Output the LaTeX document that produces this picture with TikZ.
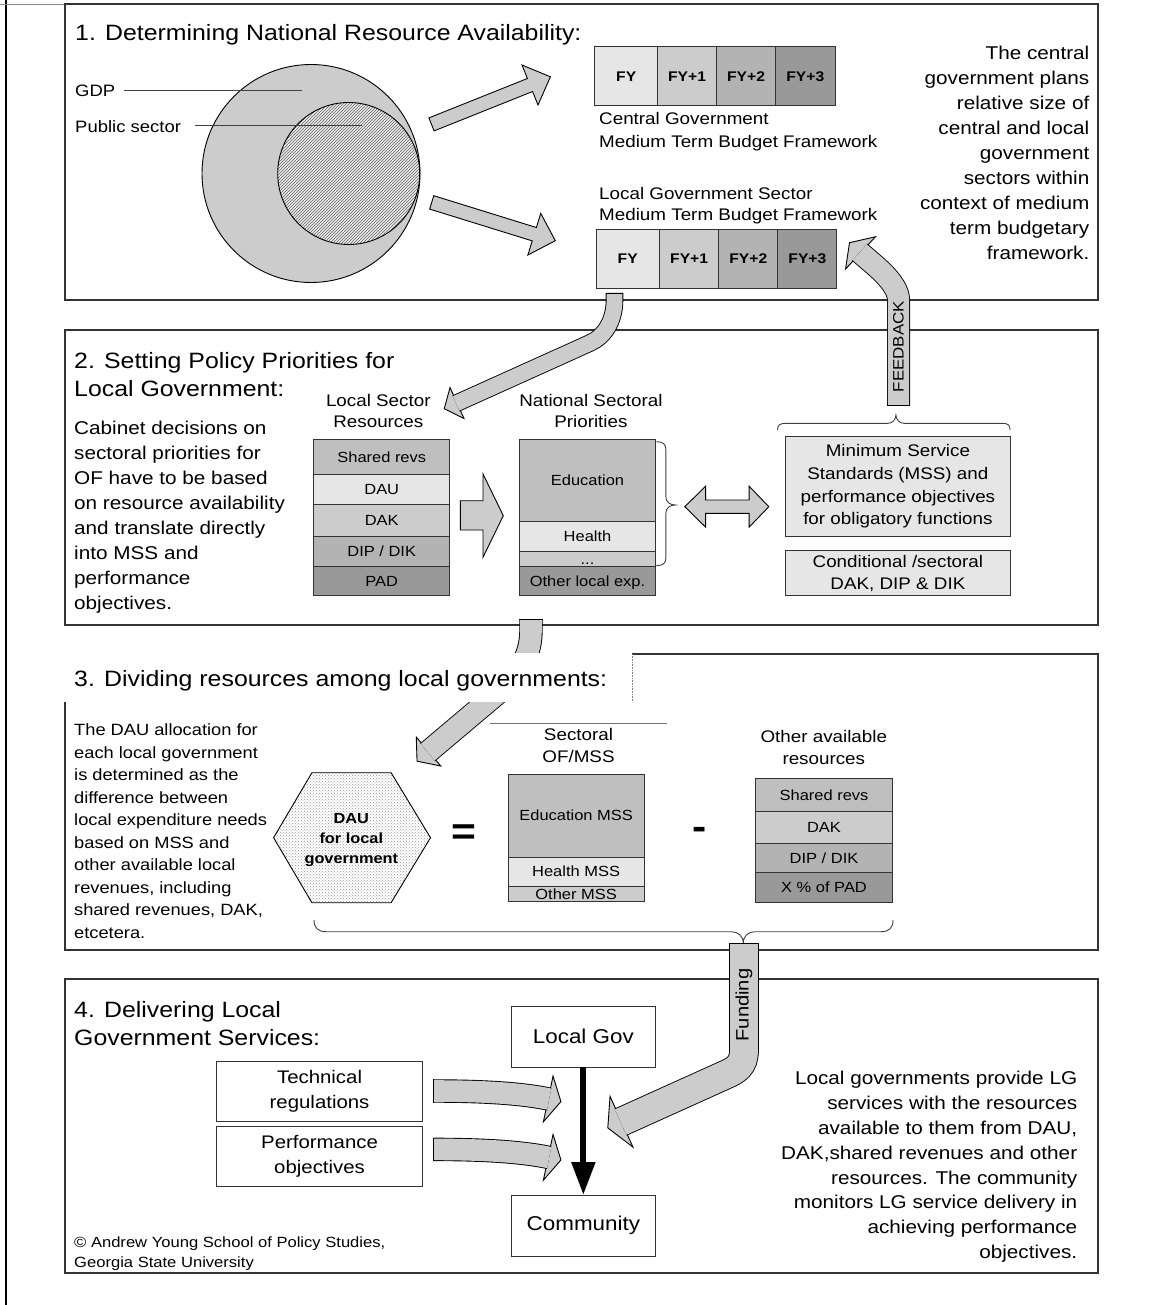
\documentclass[tikz,border=0pt]{standalone}
\usepackage{fontspec}
\setmainfont{Liberation Sans}[FakeStretch=1.12]
\usetikzlibrary{calc,patterns,arrows.meta}
\definecolor{g1}{HTML}{E6E6E6}
\definecolor{g2}{HTML}{CCCCCC}
\definecolor{g3}{HTML}{B3B3B3}
\definecolor{g4}{HTML}{999999}
\definecolor{g5}{HTML}{BFBFBF}
\definecolor{shaftc}{HTML}{CCCCCC}
\newcommand\fsz[2]{\fontsize{#1}{#2}\selectfont}
\tikzset{
  panel/.style={draw=black!80, line width=1.3pt},
  ttl/.style={inner sep=0pt, align=left, font=\fsz{22.2}{28.3}},
  body/.style={inner sep=0pt, font=\fsz{18.5}{25}},
  lbl/.style={inner sep=0pt, font=\fsz{16.5}{20}},
  captxt/.style={inner sep=0pt, font=\fsz{16.8}{22.5}},
  cellbox/.style={draw=black!80, line width=1pt, inner sep=0pt, outer sep=0pt, anchor=north west, font=\fsz{14.7}{17}, text height=10.5pt, text depth=0pt},
  fycell/.style={cellbox, font=\bfseries\fsz{14}{16}, text height=10pt},
  plainbox/.style={draw=black!80, line width=1pt, inner sep=0pt, outer sep=0pt, anchor=north west, fill=white, align=center},
  blk/.style={fill=shaftc, draw=black, line width=0.9pt, line join=miter},
  shaftst/.style={draw=black, line width=0.9pt, double=shaftc, double distance=#1},
  capline/.style={draw=black, line width=0.9pt},
  leader/.style={draw=black!75, line width=0.9pt},
  bracest/.style={draw=black!75, line width=0.9pt},
}
\begin{document}
\begin{tikzpicture}[x=1pt,y=-1pt]
\useasboundingbox (0,0) rectangle (1153,1305);
% outer frame
\draw[line width=2pt] (6,0) -- (6,1305);
\draw[black!45, line width=0.8pt] (0,4) -- (65,4);
% panels
\draw[panel] (65,4) rectangle (1098,300);
\draw[panel] (65,330) rectangle (1098,625);
\draw[panel] (65,702) -- (65,950) -- (1098,950) -- (1098,654) -- (632,654);
\draw[black!50, line width=0.6pt, densely dotted] (632,654) -- (632,702);
\draw[panel] (65,979) rectangle (1098,1273);

% ---------- Panel 1
\node[ttl, anchor=base west] (title1) at (75,41) {1. Determining National Resource Availability:};
\node[circle, draw=black, line width=0.9pt, fill=g2, minimum size=218pt, inner sep=0pt] (gdpc) at (311,173.5) {};
\node[circle, draw=black, line width=0.9pt, minimum size=142pt, inner sep=0pt, preaction={fill=black!8}, pattern=north east lines, pattern color=black!60] (pubc) at (348.7,173.5) {};
\node[lbl, anchor=base west] (gdpl) at (75,96.5) {GDP};
\node[lbl, anchor=base west] (publ) at (75,132.7) {Public sector};
\coordinate (gdpin) at (302,90);
\coordinate (pubin) at (362,125);
\draw[leader] (gdpl.east |- gdpin) ++(9,0) -- (gdpin);
\draw[leader] (publ.east |- pubin) ++(14,0) -- (pubin);
% straight block arrows
\draw[blk] (434.1,130.9) -- (532.6,91.5) -- (538,105) -- (550.4,76.8) -- (522,65) -- (527.4,78.5) -- (428.9,117.9) -- cycle;
\draw[blk] (429.63,209.09) -- (532.23,240.89) -- (527.85,255.02) -- (555.3,240.7) -- (540.75,213.38) -- (536.37,227.52) -- (433.77,195.72) -- cycle;
% central MTBF
\node[fycell, fill=g1, minimum width=62.8pt, minimum height=59pt] (cfy0) at (594.8,46.7) {FY};
\node[fycell, fill=g2, minimum width=59pt, minimum height=59pt] (cfy1) at (657.6,46.7) {FY+1};
\node[fycell, fill=g3, minimum width=59pt, minimum height=59pt] (cfy2) at (716.6,46.7) {FY+2};
\node[fycell, fill=g4, minimum width=59.4pt, minimum height=59pt] (cfy3) at (775.6,46.7) {FY+3};
\node[captxt, anchor=base west, align=left, font=\fsz{16.8}{23.4}] (ccap) at (599,147.7) {Central Government\\Medium Term Budget Framework};
\node[captxt, anchor=base west, align=left, font=\fsz{16.8}{21.7}] (lcap) at (599,221) {Local Government Sector\\Medium Term Budget Framework};
% local MTBF
\node[fycell, fill=g1, minimum width=63.5pt, minimum height=59pt] (lfy0) at (596,229.3) {FY};
\node[fycell, fill=g2, minimum width=59.3pt, minimum height=59pt] (lfy1) at (659.5,229.3) {FY+1};
\node[fycell, fill=g3, minimum width=59.1pt, minimum height=59pt] (lfy2) at (718.8,229.3) {FY+2};
\node[fycell, fill=g4, minimum width=59pt, minimum height=59pt] (lfy3) at (777.9,229.3) {FY+3};
\node[body, anchor=base east, align=right, font=\fsz{18.5}{24.9}] (p1txt) at (1089.5,259.2) {The central\\government plans\\relative size of\\central and local\\government\\sectors within\\context of medium\\term budgetary\\framework.};

% ---------- Panel 2
\node[ttl, anchor=base west] (title2) at (74,396.3) {2. Setting Policy Priorities for\\Local Government:};
\node[body, anchor=base west, align=left] (p2txt) at (74,609.7) {Cabinet decisions on\\sectoral priorities for\\OF have to be based\\on resource availability\\and translate directly\\into MSS and\\performance\\objectives.};
\node[captxt, anchor=base, align=center, font=\fsz{16.8}{21.7}] (lsrh) at (378.3,427.7) {Local Sector\\Resources};
\node[cellbox, fill=g5, minimum width=135.9pt, minimum height=35pt] (ls1) at (313.8,439.3) {Shared revs};
\node[cellbox, fill=g1, minimum width=135.9pt, minimum height=29.7pt] (ls2) at (313.8,474.3) {DAU};
\node[cellbox, fill=g2, minimum width=135.9pt, minimum height=32.7pt] (ls3) at (313.8,504) {DAK};
\node[cellbox, fill=g3, minimum width=135.9pt, minimum height=29.3pt] (ls4) at (313.8,536.7) {DIP / DIK};
\node[cellbox, fill=g4, minimum width=135.9pt, minimum height=29.7pt] (ls5) at (313.8,566) {PAD};
\draw[blk] (460.4,500.7) -- (483,500.7) -- (483,474) -- (503.3,515.7) -- (483,557.3) -- (483,530) -- (460.4,530) -- cycle;
\node[captxt, anchor=base, align=center, font=\fsz{16.8}{21.7}] (nsph) at (590.9,427.7) {National Sectoral\\Priorities};
\node[cellbox, fill=g5, minimum width=136.4pt, minimum height=82.4pt] (ns1) at (519.3,439.3) {Education};
\node[cellbox, fill=g1, minimum width=136.4pt, minimum height=30pt] (ns2) at (519.3,521.7) {Health};
\node[cellbox, fill=g2, minimum width=136.4pt, minimum height=14.3pt] (ns3) at (519.3,551.7) {...};
\node[cellbox, fill=g4, minimum width=136.4pt, minimum height=29.7pt] (ns4) at (519.3,566) {Other local exp.};
\draw[bracest] (656.4,441.7) .. controls (663,441.7) and (665.9,444) .. (665.9,450) -- (665.9,497) .. controls (665.9,502) and (670,505) .. (675.4,505) .. controls (670,505) and (665.9,508) .. (665.9,513) -- (665.9,558) .. controls (665.9,563) and (663,565.7) .. (656.4,565.7);
\draw[blk] (684.8,506.7) -- (705.6,486.2) -- (705.6,500) -- (749.1,500) -- (749.1,486.2) -- (768.8,506.7) -- (749.1,527.2) -- (749.1,513.4) -- (705.6,513.4) -- (705.6,527.2) -- cycle;
\node[plainbox, fill=g1, minimum width=224.2pt, minimum height=100.7pt, font=\fsz{16.8}{22.8}] (mss) at (785.8,436) {Minimum Service\\Standards (MSS) and\\performance objectives\\for obligatory functions};
\node[plainbox, fill=g1, minimum width=224.2pt, minimum height=45pt, font=\fsz{16.8}{21.6}] (cond) at (785.8,550.7) {Conditional /sectoral\\DAK, DIP \& DIK};
\draw[bracest] (777.5,430) .. controls (777.5,425) and (780,423.3) .. (786,423.3) -- (888,423.3) .. controls (892,423.3) and (895.9,420) .. (895.9,415) .. controls (895.9,420) and (900,423.3) .. (904,423.3) -- (1002,423.3) .. controls (1008,423.3) and (1010,425) .. (1010,430);

% ---------- Panel 3
\node[inner sep=0pt, anchor=base west, align=left, font=\fsz{16.3}{22.5}] (p3txt) at (74,938.4) {The DAU allocation for\\each local government\\is determined as the\\difference between\\local expenditure needs\\based on MSS and\\other available local\\revenues, including\\shared revenues, DAK,\\etcetera.};
\draw[line width=0.9pt, preaction={fill=white}, pattern=crosshatch dots, pattern color=black!40] (273.6,837.7) -- (311.9,772.7) -- (391.1,772.7) -- (430.5,837.7) -- (391.1,902.7) -- (311.9,902.7) -- cycle;
\node[inner sep=0pt, anchor=base, align=center, font=\bfseries\fsz{14.6}{20}] (dau) at (351.3,863.6) {DAU\\for local\\government};
\node[inner sep=0pt, font=\bfseries\fsz{38}{40}] (eqs) at (464,834.2) {=};
\node[inner sep=0pt, font=\bfseries\fsz{38}{40}] (mns) at (699.8,833.3) {-};
\draw[black!55, line width=0.6pt] (490,723) -- (667,723);
\node[captxt, anchor=base, align=center, font=\fsz{16.8}{22.7}] (sech) at (578.5,762.7) {Sectoral\\OF/MSS};
\node[cellbox, fill=g5, minimum width=135.8pt, minimum height=83.3pt] (se1) at (508.2,774) {Education MSS};
\node[cellbox, fill=g1, minimum width=135.8pt, minimum height=28.7pt] (se2) at (508.2,857.3) {Health MSS};
\node[cellbox, fill=g2, minimum width=135.8pt, minimum height=15.7pt] (se3) at (508.2,886) {Other MSS};
\node[captxt, anchor=base, align=center, font=\fsz{16.8}{22.3}] (oarh) at (823.8,764.3) {Other available\\resources};
\node[cellbox, fill=g5, minimum width=136.2pt, minimum height=33.4pt] (oa1) at (755.9,778.3) {Shared revs};
\node[cellbox, fill=g2, minimum width=136.2pt, minimum height=31.6pt] (oa2) at (755.9,811.7) {DAK};
\node[cellbox, fill=g3, minimum width=136.2pt, minimum height=29.4pt] (oa3) at (755.9,843.3) {DIP / DIK};
\node[cellbox, fill=g4, minimum width=136.2pt, minimum height=30pt] (oa4) at (755.9,872.7) {X \% of PAD};
\draw[bracest] (314,920) .. controls (314,928) and (318,931.7) .. (326,931.7) -- (731,931.7) .. controls (738,931.7) and (743.3,936) .. (743.3,943.3) .. controls (743.3,936) and (748,931.7) .. (755,931.7) -- (881,931.7) .. controls (889,931.7) and (893,928) .. (893,920);

% ---------- Panel 4
\node[ttl, anchor=base west, font=\fsz{22.2}{28}] (title4) at (74,1045.3) {4. Delivering Local\\Government Services:};
\node[plainbox, minimum width=144.7pt, minimum height=61.3pt, font=\fsz{20}{24}] (lgov) at (511,1006) {Local Gov};
\node[plainbox, minimum width=144.7pt, minimum height=61pt, font=\fsz{20}{24}] (comm) at (511,1195) {Community};
\node[plainbox, minimum width=206.7pt, minimum height=59.3pt, font=\fsz{18.2}{25}] (tech) at (216.2,1061.7) {Technical\\regulations};
\node[plainbox, minimum width=206.7pt, minimum height=59.3pt, font=\fsz{18.2}{25}] (perf) at (216.2,1126.7) {Performance\\objectives};
\draw[line width=6pt, -{Triangle[width=22.7pt,length=33pt]}] (lgov.south) -- (comm.north);
\node[body, anchor=base east, align=right, font=\fsz{18.5}{24.9}] (p4txt) at (1077.4,1258.7) {Local governments provide LG\\services with the resources\\available to them from DAU,\\DAK,shared revenues and other\\resources. The community\\monitors LG service delivery in\\achieving performance\\objectives.};
\node[inner sep=0pt, anchor=base west, align=left, font=\fsz{14.8}{20}] (copy) at (74,1267.6) {© Andrew Young School of Policy Studies,\\Georgia State University};

% ---------- curved block arrows
% A: local FY -> local sector resources
\coordinate (aS) at (614.5,293);
\coordinate (aH) at (457,403);
\draw[blk] (463.99,418.49) -- (444.25,408.75) -- (450.01,387.51) -- cycle;
\draw[shaftst=15.8, shorten >=-1pt] (aS) -- (614.5,300) .. controls (614.5,322) and (603.7,336.8) .. (590,343) -- (aH);
\draw[capline] (605.7,293) -- (623.3,293);
% B: feedback
\coordinate (bS) at (898.5,405.7);
\coordinate (bH) at (860.5,252.9);
\draw[blk] (875.46,236.77) -- (849.5,242.7) -- (845.54,269.03) -- cycle;
\draw[shaftst=21.2, shorten >=-1pt] (bS) -- (898.5,300) .. controls (898.5,282) and (871.5,263.1) .. (bH);
\draw[capline] (887,405.7) -- (910,405.7);
\node[rotate=90, inner sep=0pt, font=\fsz{15.1}{17}] (fb) at (898.5,346.7) {FEEDBACK};
% C: panel 2 -> DAU
\coordinate (cS) at (531,619);
\coordinate (cH) at (428.5,751.5);
\draw[blk] (440.76,766.02) -- (417.04,761.18) -- (416.25,736.98) -- cycle;
\draw[shaftst=21.6, shorten >=-1pt] (cS) -- (531,630) .. controls (531,668) and (505.2,686.7) .. (480,708) -- (cH);
\draw[capline] (519.3,619) -- (542.7,619);
% D: funding
\coordinate (dS) at (744,943.3);
\coordinate (dH) at (621.5,1121.7);
\draw[blk] (632.97,1147.1) -- (607.8,1127.9) -- (610.03,1096.3) -- cycle;
\draw[shaftst=27.9, shorten >=-1pt] (dS) -- (744,1050) .. controls (744,1066) and (735.9,1070.1) .. (725,1075) -- (dH);
\draw[capline] (729.3,943.3) -- (758.7,943.3);
\node[rotate=90, inner sep=0pt, font=\fsz{18}{20}] (fund) at (744,1005) {Funding};
% E, F: technical regulations / performance objectives
\draw[blk] (553.02,1076.02) -- (560.91,1101.58) -- (543.38,1121.78) -- cycle;
\draw[shaftst=21.6, shorten >=-1pt] (433.6,1091) .. controls (480,1091) and (520,1093) .. (548.2,1098.9);
\draw[capline] (433.6,1079.3) -- (433.6,1102.7);
\draw[blk] (553.02,1134.42) -- (560.91,1159.98) -- (543.38,1180.18) -- cycle;
\draw[shaftst=21.6, shorten >=-1pt] (433.6,1149.4) .. controls (480,1149.4) and (520,1151.4) .. (548.2,1157.3);
\draw[capline] (433.6,1137.7) -- (433.6,1161.1);

% cover for panel 3 title
\fill[white] (58,653.4) rectangle (631.4,701.6);
\node[ttl, anchor=base west] (title3) at (74,686.3) {3. Dividing resources among local governments:};
\end{tikzpicture}
\end{document}
